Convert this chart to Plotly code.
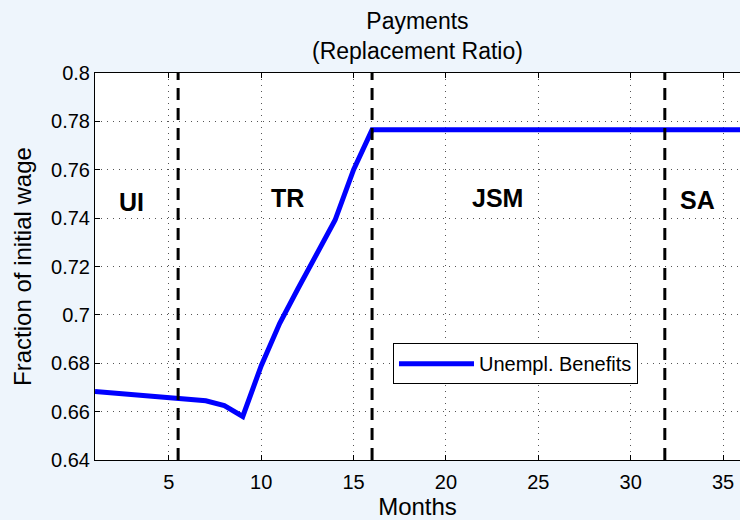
import plotly.graph_objects as go

# ---- data ----
months = list(range(1, 37))
benefits = [0.6683, 0.6677, 0.6670, 0.6664, 0.6658, 0.6651, 0.6645, 0.6625, 0.6580,
            0.6790, 0.6965, 0.7110, 0.7250, 0.7392, 0.7600, 0.7765] + [0.7765] * 20
series_name = "Unempl. Benefits"

boundaries = [5.5, 16, 31.85]
phase_labels = ["UI", "TR", "JSM", "SA"]
phase_x = [3.0, 11.4, 22.8, 33.6]
phase_y = [0.7465, 0.7485, 0.7485, 0.7475]

x_ticks = [5, 10, 15, 20, 25, 30, 35]
y_ticks = [0.64, 0.66, 0.68, 0.70, 0.72, 0.74, 0.76, 0.78, 0.80]
y_ticktext = ["0.64", "0.66", "0.68", "0.7", "0.72", "0.74", "0.76", "0.78", "0.8"]

title_text = "Payments<br>(Replacement Ratio)"
x_title = "Months"
y_title = "Fraction of initial wage"

FONT = "Liberation Sans, Arial, Helvetica, sans-serif"
BG = "#eef5fc"

fig = go.Figure()
fig.add_trace(go.Scatter(x=months, y=benefits, mode="lines", name=series_name,
                         line=dict(color="#0000ff", width=5)))

for b in boundaries:
    fig.add_vline(x=b, line=dict(color="black", width=3, dash="12px,8px"))

for lab, xx, yy in zip(phase_labels, phase_x, phase_y):
    fig.add_annotation(x=xx, y=yy, text="<b>%s</b>" % lab, showarrow=False,
                       font=dict(family=FONT, size=25, color="black"))

fig.add_annotation(x=0.5, y=1, xref="paper", yref="paper", xanchor="center",
                   yanchor="bottom", yshift=7, text=title_text, showarrow=False,
                   font=dict(family=FONT, size=23, color="black"))

fig.update_layout(
    width=740, height=520,
    margin=dict(l=95, r=0, t=73, b=60),
    paper_bgcolor=BG, plot_bgcolor="white",
    font=dict(family=FONT, size=20, color="black"),
    showlegend=True,
    legend=dict(x=0.462, y=0.302, xanchor="left", yanchor="top",
                bgcolor="white", bordercolor="black", borderwidth=1,
                itemwidth=75,
                font=dict(family=FONT, size=20, color="black")),
)
fig.update_xaxes(range=[1, 35.92], tickvals=x_ticks, ticks="inside", ticklen=5,
                 tickcolor="black", showline=True, linecolor="black", linewidth=1,
                 mirror="ticks", showgrid=True, gridcolor="#555", griddash="1px,5px",
                 gridwidth=1, zeroline=False, ticklabelstandoff=4,
                 tickfont=dict(family=FONT, size=20),
                 title=dict(text=x_title, font=dict(family=FONT, size=24), standoff=2))
fig.update_yaxes(range=[0.64, 0.8], tickvals=y_ticks, ticktext=y_ticktext,
                 ticks="inside", ticklen=5, tickcolor="black",
                 showline=True, linecolor="black", linewidth=1, mirror=False,
                 showgrid=True, gridcolor="#555", griddash="1px,5px", gridwidth=1,
                 zeroline=False, tickfont=dict(family=FONT, size=20),
                 title=dict(text=y_title, font=dict(family=FONT, size=24), standoff=12))

fig.write_html("out.html", config={"displayModeBar": False},
               post_script="document.body.style.margin='0';"
                           "document.body.style.background='%s';"
                           "document.body.style.overflow='hidden';" % BG)
